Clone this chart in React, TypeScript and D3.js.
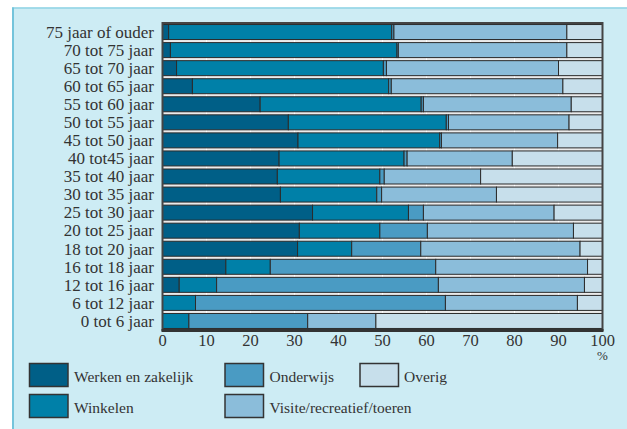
import React, { useEffect, useRef } from "react";
import * as d3 from "d3";

// leeftijdsklassen, van boven naar beneden
const categories = [
  "75 jaar of ouder", "70 tot 75 jaar", "65 tot 70 jaar", "60 tot 65 jaar",
  "55 tot 60 jaar", "50 tot 55 jaar", "45 tot 50 jaar", "40 tot45 jaar",
  "35 tot 40 jaar", "30 tot 35 jaar", "25 tot 30 jaar", "20 tot 25 jaar",
  "18 tot 20 jaar", "16 tot 18 jaar", "12 tot 16 jaar", "6 tot 12 jaar",
  "0 tot 6 jaar",
];

const werken = [1.4, 1.8, 3.2, 6.8, 22.2, 28.6, 30.8, 26.5, 26.1, 26.8, 34.1, 31.1, 30.7, 14.4, 3.8, 0, 0];
const winkelen = [50.7, 51.5, 47.0, 44.6, 36.6, 35.9, 32.2, 28.4, 23.3, 21.9, 21.8, 18.3, 12.3, 10.1, 8.5, 7.5, 6.0];
const onderwijs = [0.5, 0.3, 0.7, 0.6, 0.5, 0.5, 0.4, 0.7, 1.0, 1.1, 3.4, 10.8, 15.7, 37.6, 50.4, 56.8, 27.0];
const visite = [39.3, 38.3, 39.1, 39.0, 33.6, 27.4, 26.4, 23.9, 21.9, 26.1, 29.7, 33.2, 36.2, 34.5, 33.2, 30.0, 15.5];
const overig = [8.1, 8.1, 10.0, 9.0, 7.1, 7.6, 10.2, 20.5, 27.7, 24.1, 11.0, 6.6, 5.1, 3.4, 4.1, 5.7, 51.5];

const seriesNames = ["Werken en zakelijk", "Winkelen", "Onderwijs", "Visite/recreatief/toeren", "Overig"];
const xTicks = [0, 10, 20, 30, 40, 50, 60, 70, 80, 90, 100];

const colors = ["#005f87", "#0080a8", "#4a9bc3", "#8bbdda", "#c7dfeb"];

export default function App() {
  const ref = useRef<SVGSVGElement>(null);

  useEffect(() => {
    const svg = d3.select(ref.current);
    svg.selectAll("*").remove();

    const W = 627, H = 429;
    const m = { left: 162.5, right: 602.5, top: 23, bottom: 330 };

    // panel
    svg.append("rect").attr("x", 12).attr("y", 7.5).attr("width", W - 12).attr("height", H - 7.5).attr("fill", "#cdecf4");
    svg.append("line").attr("x1", 12).attr("x2", W).attr("y1", 8).attr("y2", 8).attr("stroke", "#8fd3e4").attr("stroke-width", 1.5);
    svg.append("line").attr("x1", 13).attr("x2", 13).attr("y1", 7.5).attr("y2", H).attr("stroke", "#74c4db").attr("stroke-width", 2);

    const table = categories.map((c, i) => ({
      cat: c,
      s0: werken[i], s1: winkelen[i], s2: onderwijs[i], s3: visite[i], s4: overig[i],
    }));
    const keys = ["s0", "s1", "s2", "s3", "s4"];

    const x = d3.scaleLinear().domain([0, 100]).range([m.left, m.right]);
    const y = d3.scaleBand().domain(categories).range([m.top, m.bottom]).paddingInner(0.17).paddingOuter(0.085);

    // plot background + grid
    svg.append("rect").attr("x", m.left).attr("y", m.top).attr("width", m.right - m.left)
      .attr("height", m.bottom - m.top).attr("fill", "#ebebeb");
    svg.append("g").selectAll("line").data(xTicks.slice(1, -1)).enter().append("line")
      .attr("x1", (d) => x(d)).attr("x2", (d) => x(d)).attr("y1", m.top).attr("y2", m.bottom)
      .attr("stroke", "#ffffff").attr("stroke-width", 1);

    const stacked = d3.stack<any>().keys(keys)(table);
    const g = svg.append("g");
    stacked.forEach((layer, k) => {
      g.append("g").selectAll("rect").data(layer.filter((d) => d[1] - d[0] > 0)).enter().append("rect")
        .attr("x", (d) => x(d[0]))
        .attr("width", (d) => x(d[1]) - x(d[0]))
        .attr("y", (d) => y(d.data.cat) as number)
        .attr("height", y.bandwidth())
        .attr("fill", colors[k])
        .attr("stroke", "#2b2b2b")
        .attr("stroke-width", 1);
    });

    // frame
    svg.append("rect").attr("x", m.left).attr("y", m.top).attr("width", m.right - m.left)
      .attr("height", m.bottom - m.top).attr("fill", "none").attr("stroke", "#444").attr("stroke-width", 2);
    svg.append("line").attr("x1", m.left - 1).attr("x2", m.right + 1).attr("y1", m.bottom + 0.5).attr("y2", m.bottom + 0.5)
      .attr("stroke", "#333").attr("stroke-width", 3);

    const font = "'Liberation Serif', 'Times New Roman', serif";

    // y labels
    svg.append("g").selectAll("text").data(categories).enter().append("text")
      .attr("x", 154)
      .attr("y", (d) => (y(d) as number) + y.bandwidth() / 2)
      .attr("dy", "0.34em")
      .attr("text-anchor", "end")
      .attr("font-family", font).attr("font-size", 17).attr("fill", "#333")
      .text((d) => d);

    // x labels
    svg.append("g").selectAll("text").data(xTicks).enter().append("text")
      .attr("x", (d) => x(d)).attr("y", 345.5)
      .attr("text-anchor", "middle")
      .attr("font-family", font).attr("font-size", 16.5).attr("fill", "#333")
      .text((d) => d);
    svg.append("text").attr("x", x(100)).attr("y", 360).attr("text-anchor", "middle")
      .attr("font-family", font).attr("font-size", 13).attr("fill", "#333").text("%");

    // legend
    const legendPos = [
      { x: 29.5, y: 363.5, tx: 74 },
      { x: 29.5, y: 394.5, tx: 74 },
      { x: 225, y: 363.5, tx: 269.5 },
      { x: 225, y: 394.5, tx: 269.5 },
      { x: 360, y: 363.5, tx: 404 },
    ];
    const order = [0, 1, 2, 3, 4];
    const lg = svg.append("g").selectAll("g").data(order).enter().append("g");
    lg.append("rect")
      .attr("x", (d) => legendPos[d].x).attr("y", (d) => legendPos[d].y)
      .attr("width", 38.5).attr("height", 23)
      .attr("fill", (d) => colors[d]).attr("stroke", "#333").attr("stroke-width", 1.5);
    lg.append("text")
      .attr("x", (d) => legendPos[d].tx).attr("y", (d) => legendPos[d].y + 18)
      .attr("font-family", font).attr("font-size", 15.5).attr("fill", "#333")
      .text((d) => seriesNames[d]);
  }, []);

  return (
    <svg ref={ref} width={627} height={429} style={{ position: "absolute", left: 0, top: 0, background: "#fff" }}></svg>
  );
}
